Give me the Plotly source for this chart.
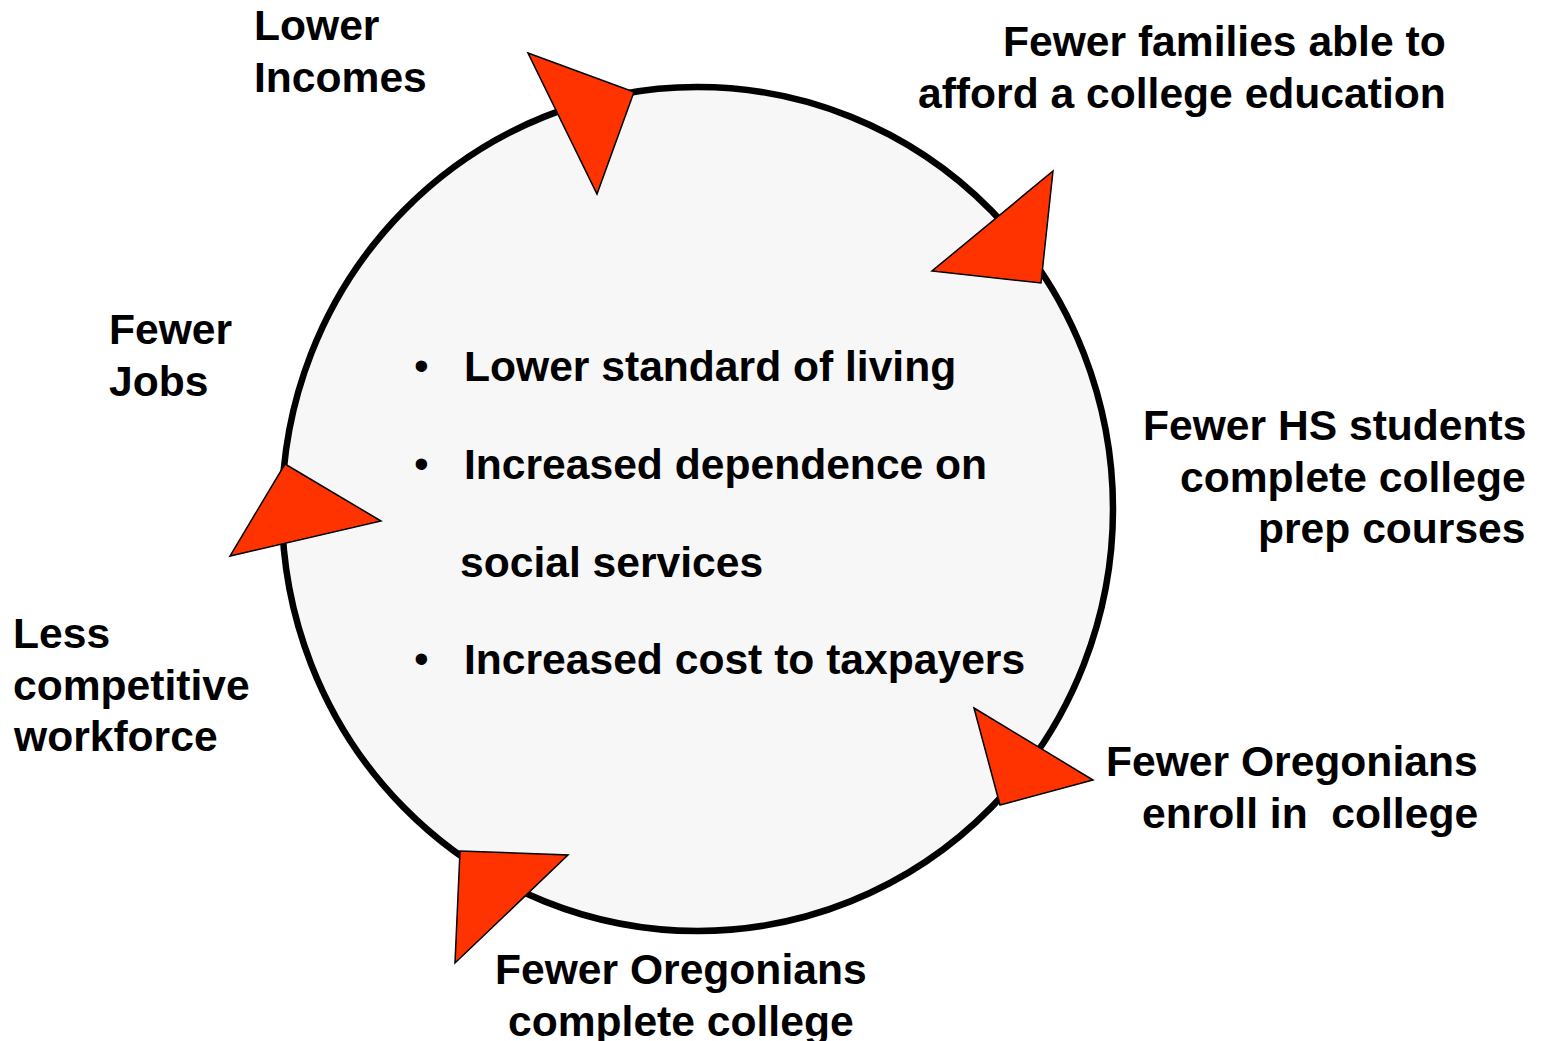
import plotly.graph_objects as go

# outer labels: lines, anchor x, first-line y, alignment
outer_lines = [
    ["Lower", "Incomes"],
    ["Fewer families able to", "afford a college education"],
    ["Fewer HS students", "complete college", "prep courses"],
    ["Fewer Oregonians", "enroll in  college"],
    ["Fewer Oregonians", "complete college"],
    ["Less", "competitive", "workforce"],
    ["Fewer", "Jobs"],
]
outer_x = [252, 1448, 1528, 1480, 681, 11, 107]
outer_y = [25, 41, 425, 761, 969, 633, 329]
outer_align = ["left", "right", "right", "right", "center", "left", "left"]

# centre bullet text
centre_lines = ["Lower standard of living", "Increased dependence on",
                "social services", "Increased cost to taxpayers"]
centre_bullet = [True, True, False, True]
centre_y = [366, 464, 562, 659]

# arrowheads around the ring (triangle corners)
arrow_x = [[528, 634, 597], [1053, 1041, 932], [974, 1093, 1000],
           [460, 568, 455], [285, 381, 230]]
arrow_y = [[53, 92, 194], [171, 283, 271], [708, 780, 805],
           [851, 855, 963], [464, 521, 556]]

W, H = 1545, 1041
PAGE_OFF = 8  # body margin of the html page
LINE_STEP = 51.5
FONT = dict(family="Liberation Sans, Arial, sans-serif", size=42.6, color="black", weight="bold")

fig = go.Figure()
fig.add_trace(go.Scatter(x=[0, W], y=[0, H], mode="markers", marker=dict(opacity=0),
                         hoverinfo="skip", showlegend=False))

fig.add_shape(type="circle", xref="x", yref="y", x0=282, x1=1113, y0=87, y1=931,
              line=dict(color="black", width=6.5), fillcolor="#f7f7f7")

for xs, ys in zip(arrow_x, arrow_y):
    path = "M %d %d L %d %d L %d %d Z" % (xs[0], ys[0], xs[1], ys[1], xs[2], ys[2])
    fig.add_shape(type="path", xref="x", yref="y", path=path,
                  fillcolor="#ff3300", line=dict(color="black", width=1.5))

for lines, x0, y0, al in zip(outer_lines, outer_x, outer_y, outer_align):
    for i, t in enumerate(lines):
        fig.add_annotation(x=x0, y=y0 + i * LINE_STEP, text=t, showarrow=False,
                           xanchor=al, yanchor="middle", font=FONT)

for t, b, y in zip(centre_lines, centre_bullet, centre_y):
    if b:
        fig.add_annotation(x=421, y=y - 1, text="•", showarrow=False,
                           xanchor="center", yanchor="middle",
                           font=dict(family="Liberation Sans, Arial", size=42, color="black"))
    fig.add_annotation(x=462 if b else 458, y=y, text=t, showarrow=False,
                       xanchor="left", yanchor="middle", font=FONT)

fig.update_xaxes(range=[PAGE_OFF, W + PAGE_OFF], visible=False, fixedrange=True)
fig.update_yaxes(range=[H + PAGE_OFF, PAGE_OFF], visible=False, fixedrange=True)
fig.update_layout(width=W, height=H, margin=dict(l=0, r=0, t=0, b=0),
                  plot_bgcolor="white", paper_bgcolor="white", showlegend=False)

fig.write_html("out.html")
